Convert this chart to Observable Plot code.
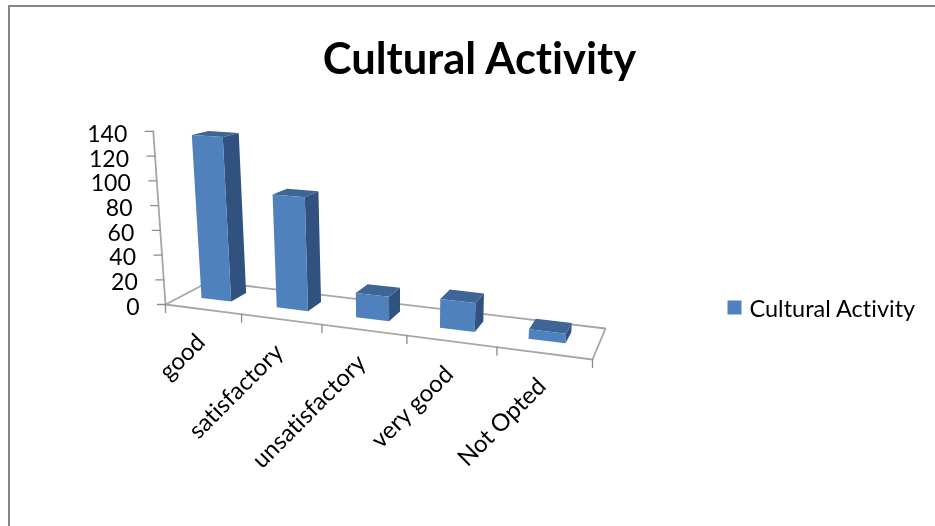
<!DOCTYPE html>
<html><head><meta charset="utf-8">
<script src="https://cdn.jsdelivr.net/npm/d3@7"></script>
<script src="https://cdn.jsdelivr.net/npm/@observablehq/plot@0.6"></script>
<style>
html,body{margin:0;padding:0;background:#fff;overflow:hidden}
#chart{position:absolute;left:0;top:0;width:935px;height:526px}
#chart svg{display:block;background:transparent;filter:blur(0.35px);font-variant-ligatures:none}
#frame{position:absolute;left:8px;top:5px;width:935px;height:530px;border-left:2px solid #868686;border-top:2px solid #868686}
</style></head>
<body><div id="frame"></div><div id="chart"></div>
<script>
const categories = ["good","satisfactory","unsatisfactory","very good","Not Opted"];
const values = [135,91,19,22,7];
const yTicks = [0,20,40,60,80,100,120,140];
const chartTitle = "Cultural Activity";
const seriesName = "Cultural Activity";

// 3D projection of the Excel-style chart: (category position, depth, value) to picture units
const [x0,y0,x1,y1,x2,y2,x3,y3] = [165,304, 592,359, 605,328, 209,281];
const dx1=x1-x2, dx2=x3-x2, sx=x0-x1+x2-x3, dy1=y1-y2, dy2=y3-y2, sy=y0-y1+y2-y3;
const det=dx1*dy2-dx2*dy1;
const g=(sx*dy2-dx2*sy)/det, h=(dx1*sy-sx*dy1)/det;
const a=x1-x0+g*x1, b=x3-x0+h*x3, d=y1-y0+g*y1, e=y3-y0+h*y3;
const unitsPerValue=1.236;
function project(c,w,v=0){
  const u=c/categories.length, q=g*u+h*w+1;
  const fx=(a*u+b*w+x0)/q, fy=(d*u+e*w+y0)/q;
  const rise=v*unitsPerValue/q;
  return {x:fx+(fx-400)*0.0003*rise, y:fy-rise};
}
const [gapA,gapB,depA,depB]=[0.26,0.66,0.37,0.74];

function face(corners){ return i=>corners.concat([corners[0]]).map(([c,w,top])=>({bar:i,...project(i+c,w,top?values[i]:0)})); }
const front=categories.flatMap((_,i)=>face([[gapA,depA,0],[gapB,depA,0],[gapB,depA,1],[gapA,depA,1]])(i));
const side =categories.flatMap((_,i)=>face([[gapB,depA,0],[gapB,depB,0],[gapB,depB,1],[gapB,depA,1]])(i));
const top_ =categories.flatMap((_,i)=>face([[gapA,depA,1],[gapB,depA,1],[gapB,depB,1],[gapA,depB,1]])(i));

const n=categories.length;
const floor=[[0,0],[n,0],[n,1],[0,1],[0,0]].map(([c,w])=>project(c,w));
const yAxis=[project(0,0,0),project(0,0,d3.max(yTicks))];
const seg=(p,dx,dy,id)=>[{id,x:p.x,y:p.y},{id,x:p.x+dx,y:p.y+dy}];
const yTickSegs=yTicks.flatMap(t=>seg(project(0,0,t),-8,0,t));
const xTickSegs=d3.range(n+1).flatMap(c=>seg(project(c,0),0,8,c));
const yLabels=yTicks.map(t=>{const p=project(0,0,t);return {t,x:p.x-26,y:p.y+3};});
const xLabels=categories.map((name,i)=>{const p=project(i+0.5,0);return {name,x:p.x-2,y:p.y+29};});

const font="Lato, Carlito, Calibri, sans-serif", grey="#a6a6a6";
const plot=Plot.plot({
  width:935,height:526,margin:0,
  style:{background:"transparent",fontFamily:font},
  x:{domain:[0,935],range:[0,935],axis:null},
  y:{domain:[0,526],range:[0,526],axis:null},
  marks:[
    Plot.line(floor,{x:"x",y:"y",stroke:grey,strokeWidth:1.8}),
    Plot.line(yAxis,{x:"x",y:"y",stroke:grey,strokeWidth:1.8}),
    Plot.line(yTickSegs,{x:"x",y:"y",z:"id",stroke:"#8c8c8c",strokeWidth:1.3}),
    Plot.line(xTickSegs,{x:"x",y:"y",z:"id",stroke:"#8c8c8c",strokeWidth:1.3}),
    Plot.line(side,{x:"x",y:"y",z:"bar",fill:"#31527e",stroke:"none"}),
    Plot.line(top_,{x:"x",y:"y",z:"bar",fill:"#3d6595",stroke:"none"}),
    Plot.line(front,{x:"x",y:"y",z:"bar",fill:"#4f81bd",stroke:"none"}),
    Plot.text(yLabels,{x:"x",y:"y",text:d=>String(d.t),textAnchor:"end",fontSize:23,fill:"#000"}),
    Plot.text(xLabels,{x:"x",y:"y",text:"name",rotate:-45,textAnchor:"end",fontSize:24,fill:"#000"}),
    Plot.text([chartTitle],{x:()=>479,y:()=>60,text:d=>d,fontSize:43.5,fontWeight:700,fill:"#000"}),
    Plot.dot([seriesName],{x:()=>734,y:()=>307,symbol:"square",r:7.9,fill:"#4f81bd",stroke:"none"}),
    Plot.text([seriesName],{x:()=>749,y:()=>309,text:d=>d,textAnchor:"start",fontSize:23.5,fill:"#000"})
  ]
});
document.getElementById("chart").appendChild(plot);
</script></body></html>
